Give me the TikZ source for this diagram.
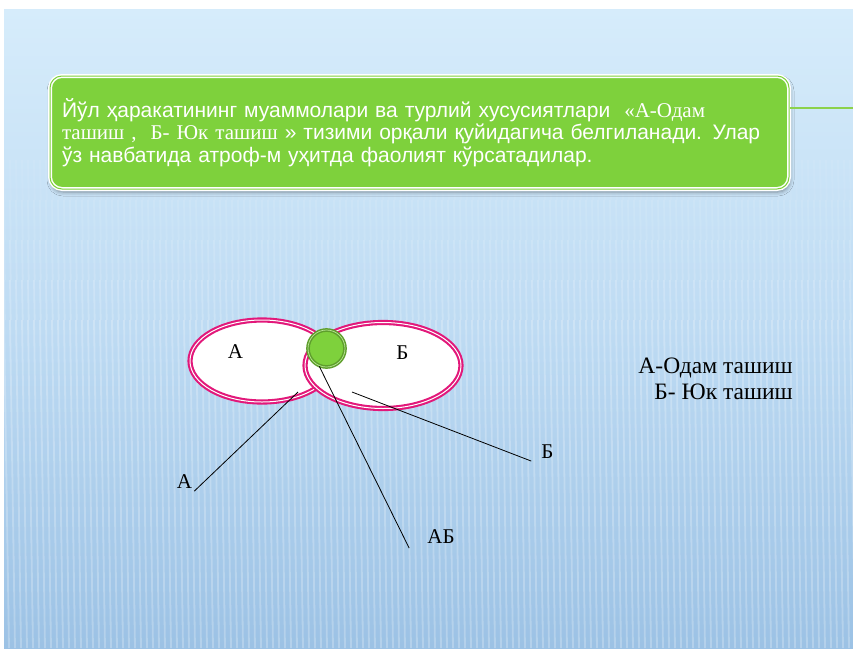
\documentclass[tikz,border=0pt]{standalone}
\usepackage{fontspec}
\setmainfont{Liberation Serif}
\newfontfamily\arialfont{Liberation Sans}
\usetikzlibrary{shapes.geometric,positioning,shadows.blur}
\definecolor{cBgTop}{HTML}{D6ECFB}
\definecolor{cBgMid}{HTML}{BEDBF3}
\definecolor{cBgBot}{HTML}{9CC2E5}
\definecolor{cGreen}{HTML}{7ED13C}
\definecolor{cGreenDark}{HTML}{5E9E2C}
\definecolor{cGreenLine}{HTML}{8CD24C}
\definecolor{cPink}{HTML}{E2187A}
\tikzset{
  note/.style  = {rectangle, rounded corners=12pt, draw=white, double=cGreen, double distance=1pt,
                  line width=1.5pt, fill=cGreen, minimum width=739pt, minimum height=113pt,
                  text width=715pt, align=left, text=white, inner xsep=12pt,
                  font=\arialfont\fontsize{21}{22.5}\selectfont,
                  blur shadow={shadow xshift=1pt, shadow yshift=-3pt, shadow blur radius=4pt}},
  setbox/.style = {ellipse, draw=cPink, double=white, double distance=1pt, line width=2.1pt,
                  fill=white, inner sep=0pt},
  hub/.style   = {circle, draw=cGreenDark, double=cGreen!55!white, double distance=0.7pt,
                  line width=1.5pt, fill=cGreen, minimum size=37pt, inner sep=0pt},
  lab/.style   = {font=\fontsize{21}{24}\selectfont, inner sep=2pt},
  key/.style   = {font=\fontsize{23.5}{26}\selectfont, align=right, inner sep=0pt},
  ptr/.style   = {draw=black, line width=0.8pt},
}
\begin{document}
\begin{tikzpicture}[x=1pt,y=-1pt]
  \useasboundingbox (0,0) rectangle (853,648);
  \fill[white] (0,0) rectangle (853,648);
  % slide background
  \shade[top color=cBgTop, bottom color=cBgBot, middle color=cBgMid] (4,9) rectangle (853,648);
  \foreach \y/\o in {160/0.06,200/0.1,240/0.15,280/0.2}
    \foreach \x in {4,10,...,853}
      \draw[white, opacity=\o, line width=1.8pt] (\x,\y) -- (\x+0.7,\y+40);
  \foreach \x in {4,10,...,853}
    \draw[white, opacity=0.24, line width=1.8pt] (\x,320) -- (\x+5,648);

  % text box
  \node[note] (note) at (419.5,132.5) {Йўл ҳаракатининг муаммолари ва турлий хусусиятлари \ {\rmfamily «А-Одам}\\
    {\rmfamily ташиш ,\ \ Б- Юк ташиш} » тизими орқали қуйидагича белгиланади. Улар\\
    ўз навбатида атроф-м уҳитда фаолият кўрсатадилар.};
  \coordinate (edge) at (853,108);
  \draw[cGreenLine, line width=1.5pt] ([yshift=24.5pt]note.east) -- (edge);

  % sets
  \node[setbox, minimum width=144pt, minimum height=82pt] (setA) at (262,361) {};
  \node[setbox, minimum width=156pt, minimum height=86pt] (setB) at (383,365.5) {};
  \node[hub] (gc) at (326.5,348.5) {};
  \node[lab] at (235.5,352) {А};
  \node[lab] at (402.5,353) {Б};

  % labels
  \node[lab] (labA) at (184.5,482) {А};
  \node[lab] (labB) at (547.5,452) {Б};
  \node[lab] (labAB) at (441,537) {АБ};
  \coordinate (pA) at (298,392);
  \coordinate (pB) at (352,392);
  \draw[ptr] (pA) -- (labA.south east);
  \draw[ptr] (pB) -- ([xshift=-8pt]labB.south west);
  \draw[ptr] (gc.248) -- ([xshift=-16pt,yshift=-2pt]labAB.south west);

  % legend
  \node[key, anchor=base east] (keyA) at (793,373) {А-Одам ташиш};
  \node[key, anchor=base east] (keyB) at (793,399) {Б- Юк ташиш};
\end{tikzpicture}
\end{document}
